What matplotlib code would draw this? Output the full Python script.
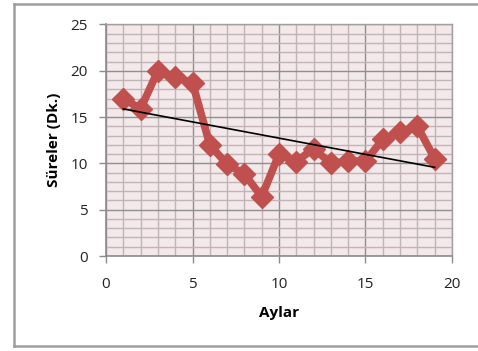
import numpy as np
import matplotlib
matplotlib.use("Agg")
import matplotlib.pyplot as plt
from matplotlib.lines import Line2D
from matplotlib.ticker import MultipleLocator

plt.rcParams['font.family'] = ['Open Sans', 'DejaVu Sans']

# Monthly durations (minutes)
months = [1, 2, 3, 4, 5, 6, 7, 8, 9, 10, 11, 12, 13, 14, 15, 16, 17, 18, 19]
durations = [17.0, 15.9, 20.0, 19.3, 18.7, 12.0, 9.9, 8.85, 6.4, 11.0,
             10.2, 11.6, 10.0, 10.25, 10.25, 12.6, 13.4, 14.0, 10.5]
x_ticks = [0, 5, 10, 15, 20]
y_ticks = [0, 5, 10, 15, 20, 25]

W, H = 478, 351
fig = plt.figure(figsize=(W / 100, H / 100), dpi=100)
fig.patch.set_facecolor('white')

# chart-area frame (open on the right edge)
def px(x, y):
    return x / W, 1 - y / H

frame = [((13.5, 4), (478, 4)), ((13.5, 4), (13.5, 346)), ((13.5, 346), (478, 346))]
for (x0, y0), (x1, y1) in frame:
    a, b = px(x0, y0)
    c, d = px(x1, y1)
    fig.add_artist(Line2D([a, c], [b, d], transform=fig.transFigure,
                          color='#9e9e9e', linewidth=1.8, zorder=10))

ax = fig.add_axes([106 / W, (H - 256) / H, 346 / W, 231.5 / H])
ax.set_facecolor('#f3e8ea')

ax.set_xlim(0, 20)
ax.set_ylim(0, 25)
ax.set_xticks(x_ticks)
ax.set_yticks(y_ticks)
ax.xaxis.set_minor_locator(MultipleLocator(1))
ax.yaxis.set_minor_locator(MultipleLocator(1))

ax.grid(True, which='minor', color='#c2b3b6', linewidth=1.0)
ax.grid(True, which='major', color='#8f8f8f', linewidth=1.0)
ax.set_axisbelow(True)

for side in ['top', 'right']:
    ax.spines[side].set_color('#a0a0a0')
    ax.spines[side].set_linewidth(1.0)
for side in ['left', 'bottom']:
    ax.spines[side].set_color('#8c8c8c')
    ax.spines[side].set_linewidth(1.2)

ax.tick_params(which='major', direction='out', length=5, width=1,
               color='#8c8c8c', labelsize=11, labelcolor='#222222')
ax.tick_params(axis='x', pad=10)
ax.tick_params(axis='y', pad=8)
ax.tick_params(which='minor', length=0)

ax.plot(months, durations, color='#c0504d', linewidth=5.5,
        marker='D', markersize=11, markerfacecolor='#c0504d',
        markeredgecolor='#c0504d', zorder=3, solid_joinstyle='round')

# linear trend line
coef = np.polyfit(months, durations, 1)
xt = np.array([months[0], months[-1]])
ax.plot(xt, np.polyval(coef, xt), color='black', linewidth=1.2, zorder=4)

ax.set_xlabel('Aylar', fontsize=11, fontweight='bold', labelpad=10)
ax.set_ylabel('Süreler (Dk.)', fontsize=11, fontweight='bold', labelpad=7)

fig.savefig('out.png', dpi=100)
